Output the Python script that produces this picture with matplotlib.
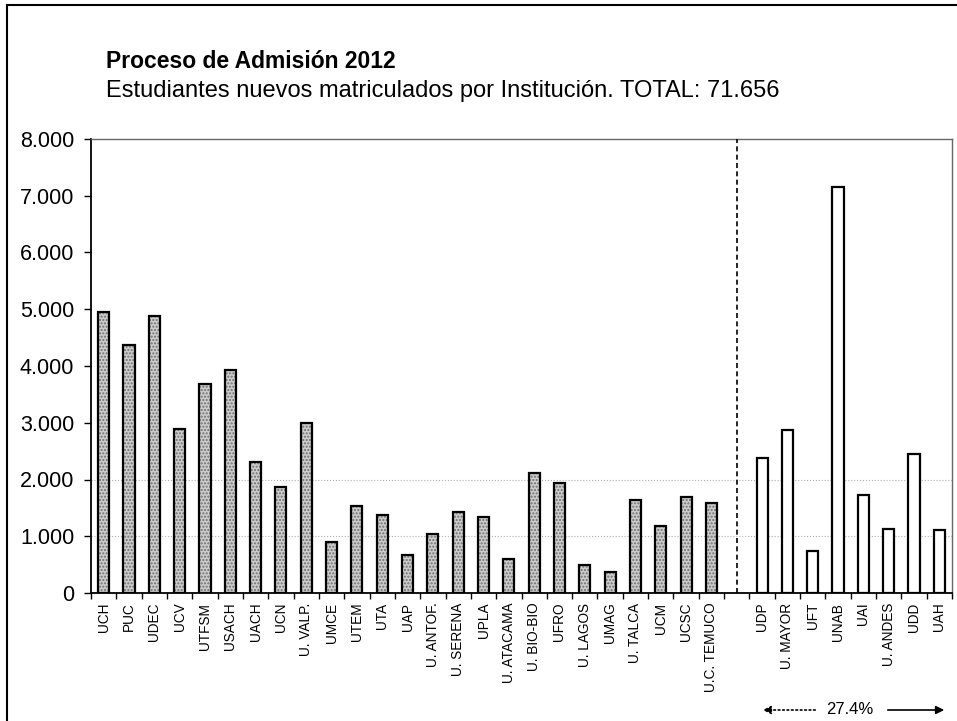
import matplotlib
matplotlib.use("Agg")
import matplotlib.pyplot as plt
from matplotlib.lines import Line2D
import numpy as np

# estudiantes nuevos matriculados 2012
cruch_names = ['UCH', 'PUC', 'UDEC', 'UCV', 'UTFSM', 'USACH', 'UACH', 'UCN',
               'U. VALP.', 'UMCE', 'UTEM', 'UTA', 'UAP', 'U. ANTOF.', 'U. SERENA',
               'UPLA', 'U. ATACAMA', 'U. BIO-BIO', 'UFRO', 'U. LAGOS', 'UMAG',
               'U. TALCA', 'UCM', 'UCSC', 'U.C. TEMUCO']
cruch_values = [4950, 4376, 4880, 2890, 3675, 3922, 2314, 1860, 2998, 906,
                1537, 1383, 677, 1042, 1436, 1337, 595, 2120, 1931, 500,
                371, 1631, 1184, 1690, 1578]

priv_names = ['UDP', 'U. MAYOR', 'UFT', 'UNAB', 'UAI', 'U. ANDES', 'UDD', 'UAH']
priv_values = [2373, 2880, 742, 7161, 1726, 1136, 2443, 1118]

yticks = [0, 1000, 2000, 3000, 4000, 5000, 6000, 7000, 8000]
ytick_labels = ['0', '1.000', '2.000', '3.000', '4.000', '5.000', '6.000', '7.000', '8.000']

plt.rcParams['font.family'] = ['Liberation Sans', 'DejaVu Sans']
plt.rcParams['hatch.linewidth'] = 1.0

W, H = 957, 721
fig = plt.figure(figsize=(W / 100, H / 100), dpi=100)
ax = fig.add_axes([91 / W, 1 - 593 / H, (952 - 91) / W, (593 - 139) / H])

n1 = len(cruch_names)
x1 = np.arange(n1)
x2 = np.arange(n1 + 1, n1 + 1 + len(priv_names))
bw = 0.44

# barras grises punteadas (fondo + trama, luego el borde negro encima)
ax.bar(x1, cruch_values, width=bw, color='#cccccc', edgecolor='#6f6f6f',
       hatch='.....', linewidth=0, zorder=2)
ax.bar(x1, cruch_values, width=bw, fill=False, edgecolor='black', linewidth=1.6, zorder=3)
ax.bar(x2, priv_values, width=bw, color='white', edgecolor='black', linewidth=1.6, zorder=3)

# linea divisoria
ax.axvline(n1, color='black', linestyle=(0, (3, 2)), linewidth=1.2, zorder=4)

for yv in [1000, 2000]:
    ax.axhline(yv, color='#b0b0b0', linestyle=':', linewidth=0.8, zorder=1)

ax.set_xlim(-0.5, n1 + len(priv_names) + 0.5)
ax.set_ylim(0, 8000)
ax.set_yticks(yticks)
ax.set_yticklabels(ytick_labels, fontsize=15.5)
ax.tick_params(axis='y', direction='out', length=5, width=1, pad=7)

all_pos = list(x1) + [n1] + list(x2)
all_names = cruch_names + [''] + priv_names
ax.set_xticks(all_pos)
ax.set_xticklabels(all_names, rotation=90, fontsize=9.8)
ax.tick_params(axis='x', which='major', length=0, pad=7)
ax.set_xticks(np.arange(-0.5, n1 + len(priv_names) + 0.6, 1.0), minor=True)
ax.tick_params(axis='x', which='minor', direction='out', length=4, width=1)

for s in ['left', 'bottom']:
    ax.spines[s].set_linewidth(1.3)
    ax.spines[s].set_color('black')
for s in ['top', 'right']:
    ax.spines[s].set_linewidth(1.0)
    ax.spines[s].set_color('#666666')

fig.text(106 / W, 1 - 68 / H, 'Proceso de Admisión 2012', fontsize=16.5,
         fontweight='bold', va='baseline', ha='left')
fig.text(106 / W, 1 - 97 / H, 'Estudiantes nuevos matriculados por Institución. TOTAL: 71.656',
         fontsize=17, va='baseline', ha='left')

# anotacion 27.4%
fig.text(850 / W, 1 - 710 / H, '27.4%', fontsize=12, ha='center', va='center')
ax.annotate('', xy=(760 / W, 1 - 710 / H), xytext=(818 / W, 1 - 710 / H),
            xycoords='figure fraction', textcoords='figure fraction',
            arrowprops=dict(arrowstyle='-|>', color='black', linestyle=':',
                            linewidth=1.2, mutation_scale=12), annotation_clip=False)
ax.annotate('', xy=(947 / W, 1 - 710 / H), xytext=(885 / W, 1 - 710 / H),
            xycoords='figure fraction', textcoords='figure fraction',
            arrowprops=dict(arrowstyle='-|>', color='black',
                            linewidth=1.2, mutation_scale=12), annotation_clip=False)

# marco exterior
fig.add_artist(Line2D([7 / W, 7 / W], [0, 1 - 5 / H], color='black', linewidth=1.5))
fig.add_artist(Line2D([7 / W, 1], [1 - 5 / H, 1 - 5 / H], color='black', linewidth=1.5))

fig.savefig('out.png', dpi=100)
